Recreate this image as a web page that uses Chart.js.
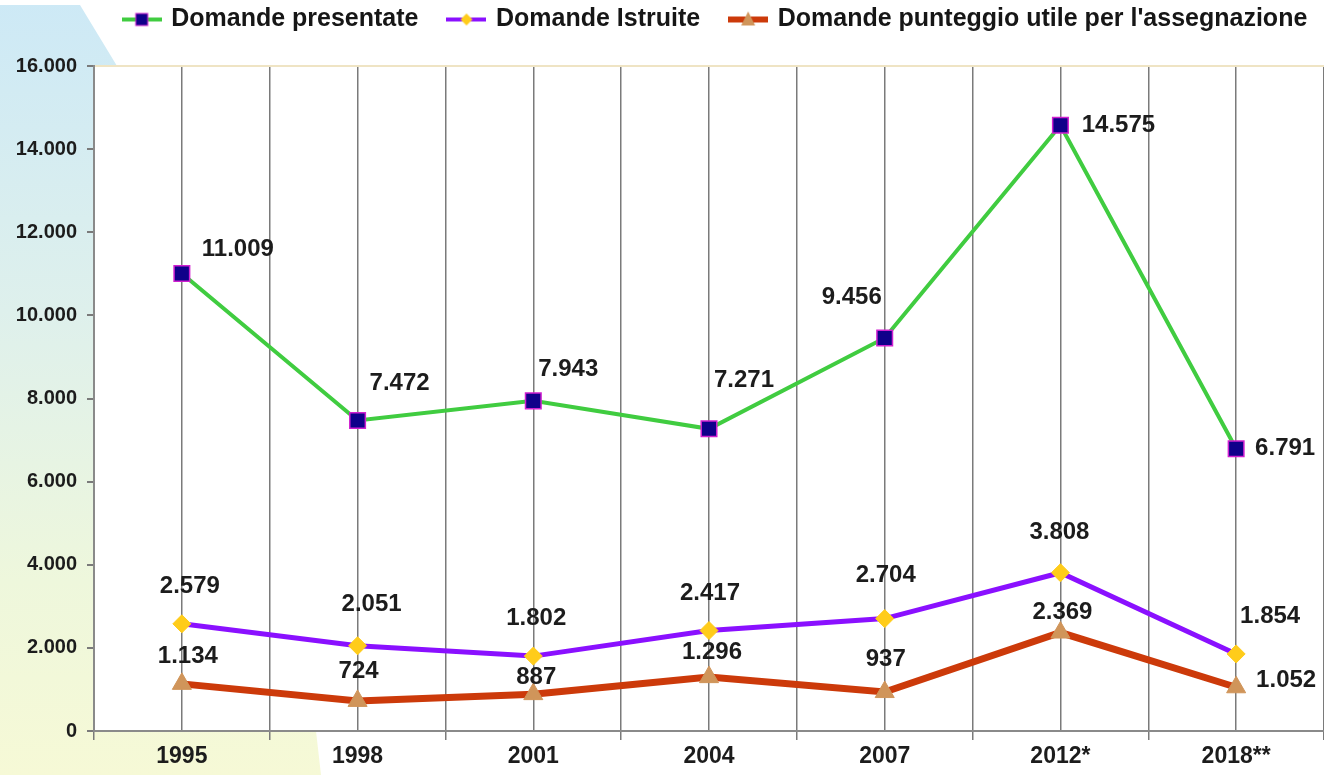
<!DOCTYPE html>
<html>
<head>
<meta charset="utf-8">
<script src="https://cdn.jsdelivr.net/npm/chart.js@4.4.1/dist/chart.umd.min.js"></script>
<style>
  html, body { margin: 0; padding: 0; background: #fff; overflow: hidden; }
  #wrap { width: 1324px; height: 775px; position: relative; }
</style>
</head>
<body>
<div id="wrap"><canvas id="chart"></canvas></div>
<script>
// data
const years = ["1995", "1998", "2001", "2004", "2007", "2012*", "2018**"];
const presentate = [11009, 7472, 7943, 7271, 9456, 14575, 6791];
const istruite = [2579, 2051, 1802, 2417, 2704, 3808, 1854];
const utili = [1134, 724, 887, 1296, 937, 2369, 1052];
const seriesNames = ["Domande presentate", "Domande Istruite", "Domande punteggio utile per l'assegnazione"];
const yMax = 16000;
const yStep = 2000;

const FONT = "'Liberation Sans', Arial, sans-serif";

// 11009 -> "11.009"
function fmt(v) {
  return String(v).replace(/\B(?=(\d{3})+(?!\d))/g, ".");
}

// where each value label sits, relative to its point (dx, dy)
const labelOffsets = [
  [[56, -24], [42, -37], [35, -31], [35, -48], [-33, -41], [58, 0], [49, 0]],
  [[8, -37], [14, -41], [3, -38], [1, -37], [1, -43], [-1, -40], [34, -38]],
  [[6, -27], [1, -30], [3, -17], [3, -25], [1, -33], [2, -20], [50, -7]]
];

// legend icons: short line with the marker in the middle
function makeIcon(lineColor, lineWidth, drawMarker) {
  const c = document.createElement("canvas");
  c.width = 40;
  c.height = 18;
  const g = c.getContext("2d");
  g.strokeStyle = lineColor;
  g.lineWidth = lineWidth;
  g.beginPath();
  g.moveTo(0, 9);
  g.lineTo(40, 9);
  g.stroke();
  drawMarker(g);
  return c;
}

const icons = [
  makeIcon("#40cc40", 4, g => {
    g.fillStyle = "#10008a";
    g.fillRect(14, 3, 12, 12);
    g.strokeStyle = "#d020d0";
    g.lineWidth = 1;
    g.strokeRect(14, 3, 12, 12);
  }),
  makeIcon("#8a10ff", 4, g => {
    g.fillStyle = "#ffcc1a";
    g.beginPath();
    g.moveTo(20, 3); g.lineTo(26, 9); g.lineTo(20, 15); g.lineTo(14, 9);
    g.closePath();
    g.fill();
  }),
  makeIcon("#cc3a0a", 6, g => {
    g.fillStyle = "#d0955a";
    g.beginPath();
    g.moveTo(20, 1); g.lineTo(27, 15); g.lineTo(13, 15);
    g.closePath();
    g.fill();
  })
];

// slide background: gradient panel on the left, white plot area
const backdrop = {
  id: "backdrop",
  beforeDraw(chart) {
    const ctx = chart.ctx;
    const a = chart.chartArea;
    ctx.save();
    const grad = ctx.createLinearGradient(0, 0, 0, chart.height);
    grad.addColorStop(0, "#cde9f6");
    grad.addColorStop(0.4, "#def0ec");
    grad.addColorStop(0.75, "#eef7dc");
    grad.addColorStop(1, "#f6f9d6");
    ctx.fillStyle = grad;
    ctx.beginPath();
    ctx.moveTo(0, 5);
    ctx.lineTo(80, 5);
    ctx.lineTo(117, a.top);
    ctx.lineTo(a.left, a.top);
    ctx.lineTo(a.left, a.bottom);
    ctx.lineTo(316, a.bottom);
    ctx.lineTo(321, chart.height);
    ctx.lineTo(0, chart.height);
    ctx.closePath();
    ctx.fill();
    ctx.fillStyle = "#ffffff";
    ctx.fillRect(a.left, a.top, a.right - a.left, a.bottom - a.top);
    ctx.restore();
  }
};

// value labels next to the points
const valueLabels = {
  id: "valueLabels",
  afterDatasetsDraw(chart) {
    const ctx = chart.ctx;
    ctx.save();
    ctx.font = "bold 24px " + FONT;
    ctx.fillStyle = "#1c1c1c";
    ctx.textAlign = "center";
    ctx.textBaseline = "middle";
    chart.data.datasets.forEach((ds, i) => {
      const meta = chart.getDatasetMeta(i);
      meta.data.forEach((pt, j) => {
        const off = labelOffsets[i][j];
        ctx.fillText(fmt(ds.data[j]), pt.x + off[0], pt.y + off[1]);
      });
    });
    ctx.restore();
  }
};

// fixed legend band height, and the legend row sits a bit right of centre
const legendBand = {
  id: "legendBand",
  beforeInit(chart) {
    const legend = chart.legend;
    const fit = legend.fit;
    legend.fit = function () {
      fit.call(this);
      this.height = 90;
    };
    const draw = legend.draw;
    legend.draw = function () {
      this.ctx.save();
      this.ctx.translate(54, 0);
      draw.call(this);
      this.ctx.restore();
    };
  }
};

new Chart(document.getElementById("chart"), {
  type: "line",
  data: {
    labels: years,
    datasets: [
      {
        label: seriesNames[0],
        data: presentate,
        borderColor: "#40cc40",
        borderWidth: 4,
        pointStyle: "rect",
        pointRadius: 11,
        pointBackgroundColor: "#10008a",
        pointBorderColor: "#d020d0",
        pointBorderWidth: 1.5,
        tension: 0
      },
      {
        label: seriesNames[1],
        data: istruite,
        borderColor: "#8a10ff",
        borderWidth: 5,
        pointStyle: "rectRot",
        pointRadius: 9,
        pointBackgroundColor: "#ffcc1a",
        pointBorderColor: "#ffcc1a",
        pointBorderWidth: 1,
        tension: 0
      },
      {
        label: seriesNames[2],
        data: utili,
        borderColor: "#cc3a0a",
        borderWidth: 7,
        pointStyle: "triangle",
        pointRadius: 11,
        pointBackgroundColor: "#d0955a",
        pointBorderColor: "#d0955a",
        pointBorderWidth: 1,
        tension: 0
      }
    ]
  },
  options: {
    responsive: true,
    maintainAspectRatio: false,
    animation: false,
    layout: { autoPadding: false, padding: { left: 0, right: 0, top: -24, bottom: 0 } },
    plugins: {
      tooltip: { enabled: false },
      legend: {
        position: "top",
        align: "center",
        labels: {
          usePointStyle: true,
          pointStyleWidth: 34,
          padding: 31,
          color: "#161616",
          font: { family: FONT, size: 25, weight: "bold" },
          generateLabels(chart) {
            return chart.data.datasets.map((ds, i) => ({
              text: ds.label,
              pointStyle: icons[i],
              fillStyle: ds.borderColor,
              strokeStyle: ds.borderColor,
              lineWidth: 0,
              hidden: false,
              datasetIndex: i,
              fontColor: "#161616"
            }));
          }
        }
      }
    },
    scales: {
      x: {
        type: "category",
        offset: true,
        grid: { offset: true, color: "#7a7a7a", lineWidth: 1.5, tickLength: 9, tickColor: "#7a7a7a" },
        border: { color: "#8a8a8a", width: 2 },
        ticks: {
          color: "#1c1c1c",
          font: { family: FONT, size: 23, weight: "bold" },
          padding: 3,
          maxRotation: 0,
          autoSkip: false
        },
        afterFit(scale) {
          scale.height = 44;
          scale.paddingLeft = 0;
          scale.paddingRight = 0;
        }
      },
      x2: {
        type: "category",
        labels: years,
        offset: true,
        position: "bottom",
        grid: { offset: false, color: "#7a7a7a", lineWidth: 1.5, drawTicks: false },
        border: { display: false },
        ticks: { display: false }
      },
      y: {
        min: 0,
        max: yMax,
        ticks: {
          stepSize: yStep,
          color: "#1c1c1c",
          font: { family: FONT, size: 20, weight: "bold" },
          padding: 10,
          callback: v => fmt(v)
        },
        grid: {
          tickLength: 7,
          tickColor: "#7a7a7a",
          color: ctx => (ctx.tick && ctx.tick.value === yMax ? "#efe4c4" : "rgba(0,0,0,0)"),
          lineWidth: 2
        },
        border: { color: "#8a8a8a", width: 2 },
        afterFit(scale) { scale.width = 94; }
      }
    }
  },
  plugins: [backdrop, valueLabels, legendBand]
});
</script>
</body>
</html>
